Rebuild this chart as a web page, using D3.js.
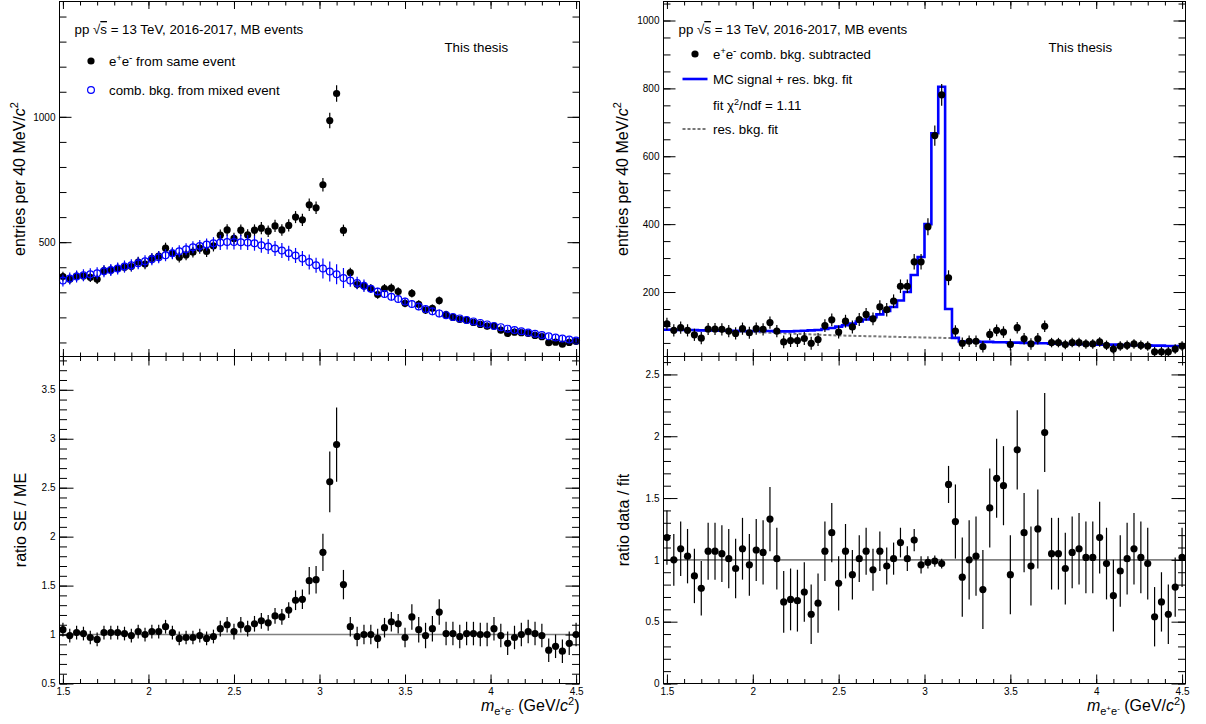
<!DOCTYPE html>
<html>
<head>
<meta charset="utf-8">
<script src="https://cdn.jsdelivr.net/npm/d3@7"></script>
<style>
  body { margin: 0; background: #fff; }
  svg { display: block; }
</style>
</head>
<body>
<svg id="chart" width="1206" height="724"></svg>
<script>
// 76 mass points, 40 MeV apart, 1.50 .. 4.50 GeV/c2
const massBins = d3.range(76).map(i => 1.5 + 0.04 * i);
const binHalf = 0.02;

const sameEvent = [363,352,365,365,360,352,387,389,396,400,
  403,421,413,435,444,476,456,440,449,460,
  476,463,485,528,549,515,548,529,548,556,
  544,565,549,567,600,589,649,637,729,985,
  1093,547,379,331,325,315,291,315,317,303,
  256,296,252,229,236,267,211,200,192,189,
  180,172,165,165,149,136,141,139,136,128,
  123,99,101,93,100,104];
const sameEventErr = [19,19,19,19,19,19,20,20,20,20,
  20,21,21,21,21,22,21,21,21,21,
  22,22,22,23,23,23,23,23,23,24,
  23,24,23,24,24,24,25,25,27,31,
  33,23,19,18,18,18,17,18,18,17,
  16,17,16,15,15,16,15,14,14,14,
  13,13,13,13,12,12,12,12,12,11,
  11,10,10,10,10,10];

const mixedEvent = [347,355,363,368,372,376,384,389,395,403,
  408,416,424,432,440,448,456,464,472,480,
  485,491,496,499,501,501,500,499,496,488,
  483,475,467,456,447,435,421,408,395,383,
  372,357,347,337,326,314,303,293,282,273,
  263,253,243,233,224,216,209,202,196,190,
  184,178,172,166,161,155,150,145,140,135,
  130,125,120,116,112,108];
const mixedEventErr = [24,24,24,24,24,24,24,24,24,24,
  24,24,24,24,24,24,24,24,24,24,
  24,24,24,30,30,30,30,30,30,30,
  30,30,30,30,30,30,30,30,40,40,
  40,40,25,25,25,15,15,15,15,15,
  15,15,15,15,15,15,10,10,10,10,
  10,10,10,10,10,10,10,10,10,10,
  10,10,10,10,10,10];

const ratioSeMe = [1.05,0.99,1.02,1.01,0.97,0.95,1.02,1.02,1.02,1.01,
  0.99,1.03,1.00,1.03,1.03,1.08,1.02,0.96,0.97,0.97,
  0.99,0.96,0.98,1.06,1.10,1.03,1.10,1.06,1.11,1.14,
  1.12,1.19,1.18,1.25,1.35,1.36,1.55,1.56,1.84,2.56,
  2.94,1.51,1.08,0.98,1.00,1.00,0.96,1.07,1.13,1.11,
  0.97,1.18,1.05,0.99,1.06,1.23,1.01,1.01,0.98,1.01,
  1.01,1.00,1.00,1.06,0.99,0.91,0.97,1.00,1.03,1.01,
  0.99,0.84,0.88,0.83,0.91,1.00];
const ratioSeMeErr = [0.07,0.07,0.07,0.07,0.07,0.07,0.07,0.07,0.07,0.07,
  0.07,0.07,0.07,0.07,0.07,0.07,0.07,0.07,0.07,0.07,
  0.07,0.07,0.07,0.08,0.08,0.08,0.08,0.08,0.08,0.08,
  0.08,0.08,0.08,0.08,0.10,0.10,0.14,0.14,0.19,0.31,
  0.38,0.15,0.10,0.10,0.10,0.10,0.10,0.10,0.10,0.10,
  0.10,0.13,0.13,0.13,0.13,0.13,0.12,0.12,0.12,0.12,
  0.12,0.12,0.12,0.12,0.12,0.12,0.12,0.12,0.12,0.12,
  0.12,0.12,0.12,0.12,0.12,0.12];

const signalSub = [106,87,95,87,74,64,91,91,90,85,
  78,92,80,92,90,110,85,53,57,57,
  63,49,60,101,118,82,114,97,119,134,
  121,156,148,173,217,217,289,289,392,661,
  781,242,85,49,55,55,39,75,87,82,
  45,95,62,47,62,99,51,51,45,51,
  51,47,47,53,43,32,41,43,47,43,
  41,24,24,24,32,41];
const signalSubErr = [18,18,18,18,18,18,18,18,18,18,
  18,18,18,18,18,18,18,19,19,19,
  19,19,19,19,19,19,19,19,19,19,
  19,20,20,20,20,20,23,23,25,30,
  32,22,17,17,17,17,17,17,17,17,
  17,17,17,17,17,17,14,14,14,14,
  14,14,14,14,14,14,14,14,14,14,
  14,14,14,14,14,14];

const fitHist = [89,89,88,88,88,87,87,87,86,86,
  86,85,85,85,85,85,84,84,84,85,
  86,87,88,91,94,98,102,107,113,119,
  126,134,144,156,175,200,250,303,400,668,
  805,150,65,54,54,54,53,53,52,52,
  51,51,50,50,49,49,48,48,47,47,
  46,46,46,45,45,45,44,44,43,43,
  43,42,42,41,41,40];

const resBkgMass = [1.48, 1.75, 2.0, 2.25, 2.5, 2.75, 3.0, 3.2];
const resBkgFit = [89, 86, 82, 77, 72, 69, 66, 64];

const ratioDataFit = [1.18,1.00,1.09,1.03,0.87,0.77,1.07,1.07,1.05,1.01,
  0.93,1.09,0.96,1.08,1.06,1.33,1.01,0.66,0.68,0.67,
  0.74,0.56,0.65,1.07,1.22,0.81,1.07,0.88,1.01,1.07,
  0.92,1.07,0.95,1.01,1.14,1.01,1.16,0.96,0.98,0.99,
  0.97,1.61,1.31,0.86,1.00,1.03,0.76,1.42,1.66,1.60,
  0.88,1.89,1.22,0.95,1.25,2.03,1.05,1.05,0.93,1.06,
  1.09,1.02,1.02,1.18,0.97,0.71,0.91,1.01,1.09,1.02,
  0.97,0.54,0.66,0.56,0.78,1.02];
const ratioDataFitErr = [0.22,0.21,0.22,0.22,0.22,0.22,0.23,0.23,0.23,0.24,
  0.24,0.25,0.25,0.25,0.26,0.26,0.25,0.25,0.25,0.25,
  0.24,0.24,0.24,0.24,0.24,0.22,0.22,0.20,0.19,0.19,
  0.17,0.16,0.15,0.13,0.12,0.10,0.09,0.07,0.05,0.045,
  0.04,0.15,0.30,0.32,0.32,0.32,0.32,0.32,0.32,0.32,
  0.32,0.32,0.32,0.32,0.32,0.32,0.29,0.29,0.29,0.29,
  0.29,0.29,0.29,0.29,0.29,0.29,0.29,0.29,0.29,0.29,
  0.29,0.24,0.24,0.24,0.24,0.24];

// tick values
const xMajorTicks = [1.5, 2, 2.5, 3, 3.5, 4, 4.5];
const xMinorTicks = d3.range(15, 46).map(v => v / 10);
const seMajorTicks = [500, 1000];
const seMinorTicks = d3.range(1, 15).map(v => v * 100);
const ratioSeMajorTicks = [0.5, 1, 1.5, 2, 2.5, 3, 3.5];
const ratioSeMinorTicks = d3.range(5, 39).map(v => v / 10);
const subMajorTicks = [200, 400, 600, 800, 1000];
const subMinorTicks = d3.range(1, 22).map(v => v * 50);
const ratioFitMajorTicks = [0, 0.5, 1, 1.5, 2, 2.5];
const ratioFitMinorTicks = d3.range(0, 27).map(v => v / 10);

const font = "'Liberation Sans', Arial, Helvetica, sans-serif";
const blue = "#0000ff";
const svg = d3.select("#chart").attr("font-family", font);

const topY = [1.5, 356.5], botY = [356.5, 683.5];

const columns = [
  {left: 59.5, right: 579.5, topDomain: [44, 1460], botDomain: [0.5, 3.84],
   topMajor: seMajorTicks, topMinor: seMinorTicks,
   botMajor: ratioSeMajorTicks, botMinor: ratioSeMinorTicks,
   botTitle: "ratio SE / ME", titleX: 25.5},
  {left: 663.5, right: 1185.5, topDomain: [10, 1056], botDomain: [0, 2.645],
   topMajor: subMajorTicks, topMinor: subMinorTicks,
   botMajor: ratioFitMajorTicks, botMinor: ratioFitMinorTicks,
   botTitle: "ratio data / fit", titleX: 629}
];

function axisGroup(g, axisFn, scale, values, size, tx, ty, labels) {
  let ax = axisFn(scale)
    .tickValues(values)
    .tickSize(size)
    .tickSizeOuter(0)
    .tickPadding(labels ? 4 : 0)
    .tickFormat(labels ? d3.format("~g") : () => "");
  let sel = g.append("g")
    .attr("transform", `translate(${tx},${ty})`)
    .attr("font-family", font)
    .attr("font-size", 14)
    .call(ax);
  sel.select(".domain").remove();
  sel.selectAll(".tick line").attr("stroke", "#000");
  sel.selectAll(".tick text").attr("fill", "#000");
  return sel;
}

function drawFrame(g, x, y, rows, yMajor, yMinor, xLen, yLen, xLabels) {
  let [l, r] = x.range(), [t, b] = rows;
  axisGroup(g, d3.axisLeft, y, yMinor, -yLen[1], l, 0, false);
  axisGroup(g, d3.axisLeft, y, yMajor, -yLen[0], l, 0, true);
  axisGroup(g, d3.axisRight, y, yMinor, -yLen[1], r, 0, false);
  axisGroup(g, d3.axisRight, y, yMajor, -yLen[0], r, 0, false);
  axisGroup(g, d3.axisBottom, x, xMinorTicks, -xLen[1], 0, b, false);
  axisGroup(g, d3.axisBottom, x, xMajorTicks, -xLen[0], 0, b, xLabels);
  axisGroup(g, d3.axisTop, x, xMinorTicks, -xLen[1], 0, t, false);
  axisGroup(g, d3.axisTop, x, xMajorTicks, -xLen[0], 0, t, false);
  g.append("rect")
    .attr("x", l).attr("y", t)
    .attr("width", r - l).attr("height", b - t)
    .attr("fill", "none").attr("stroke", "#000").attr("stroke-width", 1);
}

function drawPoints(g, x, y, vals, errs, color, open) {
  g.append("g").selectAll("line").data(vals).join("line")
    .attr("x1", (d, i) => x(massBins[i]))
    .attr("x2", (d, i) => x(massBins[i]))
    .attr("y1", (d, i) => y(d - errs[i]))
    .attr("y2", (d, i) => y(d + errs[i]))
    .attr("stroke", color)
    .attr("stroke-width", 1.2);
  g.append("g").selectAll("circle").data(vals).join("circle")
    .attr("cx", (d, i) => x(massBins[i]))
    .attr("cy", d => y(d))
    .attr("r", open ? 3.4 : 3.6)
    .attr("fill", open ? "none" : color)
    .attr("stroke", open ? color : "none")
    .attr("stroke-width", 1.2);
}

function rich(parent, parts, attrs) {
  let t = parent.append("text").attr("fill", "#000");
  Object.entries(attrs).forEach(([k, v]) => t.attr(k, v));
  parts.forEach(p => {
    let s = t.append("tspan").text(p.t);
    if (p.dy) s.attr("dy", p.dy);
    if (p.size) s.attr("font-size", p.size);
    if (p.italic) s.attr("font-style", "italic");
    if (p.over) s.attr("text-decoration", "overline");
  });
  return t;
}

const LF = 13.3;
const epem = [{t: "e"}, {t: "+", size: 9, dy: -5}, {t: "e", size: LF, dy: 5}, {t: "-", size: 10, dy: -5}];

columns.forEach((col, ci) => {
  let g = svg.append("g"),
      x = d3.scaleLinear().domain([1.48, 4.52]).range([col.left, col.right]),
      yT = d3.scaleLinear().domain(col.topDomain).range([topY[1], topY[0]]),
      yB = d3.scaleLinear().domain(col.botDomain).range([botY[1], botY[0]]);

  // reference line in the ratio pad
  g.append("line")
    .attr("x1", col.left).attr("x2", col.right)
    .attr("y1", yB(1)).attr("y2", yB(1))
    .attr("stroke", "#808080").attr("stroke-width", 1.6);

  if (ci === 0) {
    drawPoints(g, x, yT, sameEvent, sameEventErr, "#000", false);
    drawPoints(g, x, yT, mixedEvent, mixedEventErr, blue, true);
    drawPoints(g, x, yB, ratioSeMe, ratioSeMeErr, "#000", false);
  } else {
    g.append("path")
      .datum(resBkgMass.map((m, i) => [m, resBkgFit[i]]))
      .attr("d", d3.line().x(d => x(d[0])).y(d => yT(d[1])).curve(d3.curveMonotoneX))
      .attr("fill", "none").attr("stroke", "#777").attr("stroke-width", 2)
      .attr("stroke-dasharray", "3,2");
    let steps = [];
    fitHist.forEach((v, i) => {
      steps.push([massBins[i] - binHalf, v], [massBins[i] + binHalf, v]);
    });
    g.append("path")
      .datum(steps)
      .attr("d", d3.line().x(d => x(d[0])).y(d => yT(d[1])))
      .attr("fill", "none").attr("stroke", blue).attr("stroke-width", 2.6);
    drawPoints(g, x, yT, signalSub, signalSubErr, "#000", false);
    drawPoints(g, x, yB, ratioDataFit, ratioDataFitErr, "#000", false);
  }

  drawFrame(g, x, yT, topY, col.topMajor, col.topMinor, [7.5, 4], [12, 7], false);
  drawFrame(g, x, yB, botY, col.botMajor, col.botMinor, [9, 4.5], [14, 7.5], true);

  // axis titles
  rich(g, [{t: "entries per 40 MeV/"}, {t: "c", italic: true}, {t: "2", size: 11, dy: -7}],
    {"font-size": 16, "text-anchor": "middle",
     transform: `translate(${col.titleX - 1},${(topY[0] + topY[1]) / 2}) rotate(-90)`});
  rich(g, [{t: col.botTitle}],
    {"font-size": 16, "text-anchor": "middle",
     transform: `translate(${col.titleX},${(botY[0] + botY[1]) / 2}) rotate(-90)`});
  rich(g, [{t: "m", italic: true}, {t: "e", size: 11, dy: 4}, {t: "+", size: 8, dy: -4},
      {t: "e", size: 11, dy: 4}, {t: "-", size: 8, dy: -4},
      {t: " (GeV/", size: 16}, {t: "c", italic: true}, {t: "2", size: 11, dy: -6},
      {t: ")", size: 16, dy: 6}],
    {"font-size": 16, "text-anchor": "end", x: col.right, y: 711});

  // labels
  let lx = col.left;
  rich(g, [{t: "pp  "}, {t: "\u221a"}, {t: "s", over: true}, {t: " = 13 TeV, 2016-2017, MB events"}],
    {"font-size": LF, x: lx + 15, y: 34});
  rich(g, [{t: "This thesis"}], {"font-size": LF, x: lx + 385, y: 52});

  if (ci === 0) {
    g.append("circle").attr("cx", lx + 31.5).attr("cy", 61).attr("r", 3.6).attr("fill", "#000");
    rich(g, epem.concat([{t: " from same event", size: LF, dy: 5}]),
      {"font-size": LF, x: lx + 49.5, y: 65.5});
    g.append("circle").attr("cx", lx + 31.5).attr("cy", 90).attr("r", 3.4)
      .attr("fill", "none").attr("stroke", blue).attr("stroke-width", 1.2);
    rich(g, [{t: "comb. bkg. from mixed event"}], {"font-size": LF, x: lx + 49.5, y: 94.5});
  } else {
    g.append("circle").attr("cx", lx + 31.5).attr("cy", 54).attr("r", 3.6).attr("fill", "#000");
    rich(g, epem.concat([{t: " comb. bkg. subtracted", size: LF, dy: 5}]),
      {"font-size": LF, x: lx + 49.5, y: 58.5});
    g.append("line").attr("x1", lx + 19).attr("x2", lx + 44).attr("y1", 79).attr("y2", 79)
      .attr("stroke", blue).attr("stroke-width", 2.6);
    rich(g, [{t: "MC signal + res. bkg. fit"}], {"font-size": LF, x: lx + 49.5, y: 84});
    rich(g, [{t: "fit \u03c7"}, {t: "2", size: 9, dy: -5}, {t: "/ndf = 1.11", size: LF, dy: 5}],
      {"font-size": LF, x: lx + 49.5, y: 109.5});
    g.append("line").attr("x1", lx + 19).attr("x2", lx + 44).attr("y1", 129).attr("y2", 129)
      .attr("stroke", "#777").attr("stroke-width", 2).attr("stroke-dasharray", "3,2");
    rich(g, [{t: "res. bkg. fit"}], {"font-size": LF, x: lx + 49.5, y: 133.5});
  }
});
</script>
</body>
</html>
